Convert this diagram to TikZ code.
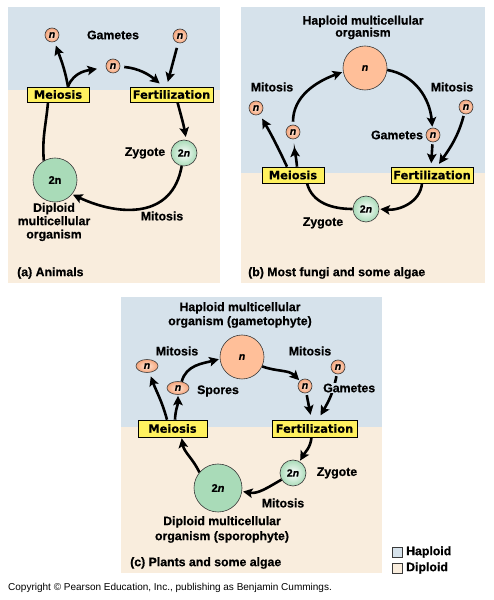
\documentclass[tikz,border=0pt]{standalone}
\usepackage{fontspec}
\setmainfont{Liberation Sans}
\newfontfamily\labfont[FakeBold=0.6]{Liberation Sans Bold}
\newfontfamily\labitfont[FakeBold=0.6]{Liberation Sans Bold Italic}
\newfontfamily\boxfont[FakeBold=0.6]{DejaVu Sans Bold}
\usetikzlibrary{arrows.meta,shapes.geometric}
\definecolor{hapblue}{HTML}{D6E2EB}
\definecolor{dipbeige}{HTML}{F9EDDD}
\definecolor{boxyellow}{HTML}{FFF15F}
\definecolor{peach}{HTML}{FFBF99}
\definecolor{peachdark}{HTML}{F5A47A}
\definecolor{peachlight}{HTML}{FFE8D8}
\definecolor{dipgreen}{HTML}{A9DBB8}
\definecolor{edge}{HTML}{3A3A3A}
\newcommand{\nit}{{\labitfont n}}
\tikzset{
  lbl/.style={font=\labfont\fontsize{12.3}{13.3}\selectfont, align=center, inner sep=0pt},
  stagebox/.style={draw=black, line width=0.6pt, fill=boxyellow, inner sep=0pt,
    font=\boxfont\fontsize{11.4}{12}\selectfont},
  arr/.style={line width=2.6pt, -{Stealth[length=9.5pt,width=9.5pt,inset=2pt]}},
  plainline/.style={line width=2.6pt},
  nsmall/.style={circle, minimum size=14pt, inner sep=0pt, draw=edge, line width=0.6pt,
    inner color=peachlight, outer color=peachdark,
    font=\labitfont\fontsize{10.5}{10}\selectfont},
  nell/.style={ellipse, minimum width=22pt, minimum height=13pt, inner sep=0pt, draw=edge,
    line width=0.6pt, inner color=peachlight, outer color=peachdark,
    font=\labitfont\fontsize{10.5}{10}\selectfont},
  bign/.style={circle, minimum size=44pt, inner sep=0pt, draw=edge, line width=0.6pt,
    fill=peach, font=\labitfont\fontsize{10.5}{10}\selectfont},
  zyg/.style={circle, minimum size=26pt, inner sep=0pt, draw=edge, line width=0.6pt,
    inner color=white, outer color=dipgreen, font=\labfont\fontsize{10.5}{11}\selectfont},
  dip/.style={circle, inner sep=0pt, draw=edge, line width=0.6pt,
    fill=dipgreen, font=\labfont\fontsize{11}{11}\selectfont},
  legsq/.style={draw=edge, line width=0.6pt, minimum size=10pt, inner sep=0pt},
}
\begin{document}
\begin{tikzpicture}[x=1pt,y=1pt]
\useasboundingbox (0,0) rectangle (494,600);
\fill[white] (0,0) rectangle (494,600);
% backgrounds
\fill[hapblue] (8,510) rectangle (220,593);
\fill[dipbeige] (8,317) rectangle (220,510);
\fill[hapblue] (241,427) rectangle (485,593);
\fill[dipbeige] (241,317) rectangle (485,427);
\fill[hapblue] (121,173) rectangle (382,303);
\fill[dipbeige] (121,27) rectangle (382,173);

% ---------- panel (a) ----------
\node[nsmall] (nA1) at (52,565) {n};
\node[nsmall] (nA2) at (113,534) {n};
\node[nsmall] (nA3) at (180,564) {n};
\node[lbl] (gamA) at (113,565) {Gametes};
\node[stagebox, minimum width=62pt, minimum height=15pt] (meiA) at (58,505.5) {Meiosis};
\node[stagebox, minimum width=83pt, minimum height=15pt] (fertA) at (171.5,505.5) {Fertilization};
\node[zyg] (zygA) at (184,447) {2\nit};
\node[lbl] (zygAl) at (145,447) {Zygote};
\node[dip, minimum size=44pt] (dipA) at (55,420) {2n};
\node[lbl] (dipAl) at (54,378) {Diploid\\multicellular\\organism};
\node[lbl] (mitA) at (162,384) {Mitosis};
\node[lbl, anchor=west] (capA) at (17,327) {(a) Animals};

\coordinate (mA) at ([xshift=10pt]meiA.north);
\draw[arr, shorten >=4pt] (mA) to[out=100,in=-70] (nA1);
\draw[arr, shorten >=9pt] (mA) to[out=70,in=190] (nA2);
\draw[arr, shorten <=4pt, shorten >=5pt] (nA2) to[out=-5,in=140] ([xshift=-8pt]fertA.north);
\draw[arr, shorten <=5pt, shorten >=5pt] (nA3) -- ([xshift=-5pt]fertA.north);
\draw[arr, shorten >=3pt] ([xshift=6pt]fertA.south) to[out=-75,in=100] (zygA.80);
\draw[arr, shorten >=1pt] (zygA.-100) to[out=-100,in=-25,looseness=1.2] (dipA.-40);
\draw[plainline] (dipA.120) to[out=95,in=-95] ([xshift=-10pt]meiA.south);

% ---------- panel (b) ----------
\node[lbl, font=\labfont\fontsize{12.3}{12}\selectfont] (titB) at (363,572.5) {Haploid multicellular\\organism};
\node[bign] (bigB) at (365,532) {n};
\node[lbl] (mitB1) at (272,513) {Mitosis};
\node[lbl] (mitB2) at (452,513) {Mitosis};
\node[nsmall] (nB1) at (256,492) {n};
\node[nsmall] (nB2) at (293,468) {n};
\node[nsmall] (nB3) at (433,465) {n};
\node[nsmall] (nB4) at (466,493) {n};
\node[lbl] (gamB) at (397,465) {Gametes};
\node[stagebox, minimum width=62pt, minimum height=16pt] (meiB) at (293,425) {Meiosis};
\node[stagebox, minimum width=82pt, minimum height=16pt] (fertB) at (432,425) {Fertilization};
\node[zyg] (zygB) at (366,391) {2\nit};
\node[lbl] (zygBl) at (323,377) {Zygote};
\node[lbl, anchor=west] (capB) at (248,327) {(b) Most fungi and some algae};

\draw[arr, shorten >=8pt] ([xshift=4pt]meiB.north) to[out=95,in=-85] (nB2);
\draw[arr, shorten >=5pt] ([xshift=-6pt]meiB.north) to[out=115,in=-60] (nB1);
\draw[arr, shorten <=3pt, shorten >=1pt] (nB2) to[out=90,in=200] (bigB.190);
\draw[arr, shorten >=1pt] (bigB.-5) to[out=-10,in=95] (nB3);
\draw[arr, shorten <=2pt, shorten >=3.5pt] (nB3) -- ([xshift=-1pt]fertB.north);
\draw[arr, shorten <=2pt, shorten >=3.5pt] (nB4) to[out=-105,in=55] ([xshift=5pt]fertB.north);
\draw[arr, shorten >=1pt] ([xshift=-10pt]fertB.south) to[out=-95,in=-5] (zygB.east);
\draw[plainline] (zygB.west) to[out=180,in=-75] ([xshift=14pt]meiB.south);

% ---------- panel (c) ----------
\node[lbl, font=\labfont\fontsize{12.3}{14}\selectfont] (titC) at (240,285) {Haploid multicellular\\organism (gametophyte)};
\node[bign] (bigC) at (242,243) {n};
\node[lbl] (mitC1) at (177,249) {Mitosis};
\node[lbl] (mitC2) at (310,249) {Mitosis};
\node[nell] (nC1) at (147,234) {n};
\node[nell] (nC2) at (178,212) {n};
\node[lbl] (sporC) at (218,209) {Spores};
\node[nsmall] (nC3) at (305,214) {n};
\node[nsmall] (nC4) at (338,233) {n};
\node[stagebox, minimum width=69pt, minimum height=17pt] (meiC) at (172.5,171.5) {Meiosis};
\node[stagebox, minimum width=85pt, minimum height=17pt] (fertC) at (314.5,171.5) {Fertilization};
\node[zyg] (zygC) at (293,127) {2\nit};
\node[lbl] (zygCl) at (337,127) {Zygote};
\node[dip, minimum size=48pt] (dipC) at (218,112) {2\nit};
\node[lbl] (mitC3) at (283,97) {Mitosis};
\node[lbl, font=\labfont\fontsize{12.3}{15}\selectfont] (dipCl) at (222,70.5) {Diploid multicellular\\organism (sporophyte)};
\node[lbl, anchor=west] (capC) at (130,37) {(c) Plants and some algae};

\draw[arr, shorten >=4pt] ([xshift=-5.5pt]meiC.north) to[out=105,in=-70] (nC1);
\draw[arr, shorten >=1pt] ([xshift=2.5pt]meiC.north) to[out=88,in=-90] (nC2);
\draw[arr, shorten >=1pt] (nC2.60) to[out=75,in=195] (bigC.185);
\draw[arr, shorten >=1pt] (bigC.-25) to[out=-20,in=135] (nC3);
\draw[arr, shorten <=2pt, shorten >=5pt] (nC3) -- ([xshift=-3pt]fertC.north);
\draw[arr, shorten <=2pt, shorten >=5pt] (nC4) to[out=-100,in=60] ([xshift=3.5pt]fertC.north);
\node[lbl, fill=hapblue, inner sep=1pt, anchor=west] (gamC) at (322,212) {Gametes};
\draw[arr, shorten >=1pt] ([xshift=-3pt]fertC.south) to[out=-95,in=60] (zygC);
\draw[arr, shorten >=1pt] (zygC.-150) to[out=-150,in=-10] (dipC.-8);
\draw[arr, shorten >=1pt] (dipC.140) to[out=115,in=-80] ([xshift=9pt]meiC.south);

% ---------- legend ----------
\node[legsq, fill=hapblue] (lh) at (397,48) {};
\node[lbl, anchor=west] (lhl) at (406,48) {Haploid};
\node[legsq, fill=dipbeige] (ld) at (397,32) {};
\node[lbl, anchor=west] (ldl) at (406,32) {Diploid};

\node[anchor=west, inner sep=0pt, font=\fontsize{10}{10}\selectfont] (copy) at (8,12)
  {Copyright \textcopyright{} Pearson Education, Inc., publishing as Benjamin Cummings.};
\end{tikzpicture}
\end{document}
